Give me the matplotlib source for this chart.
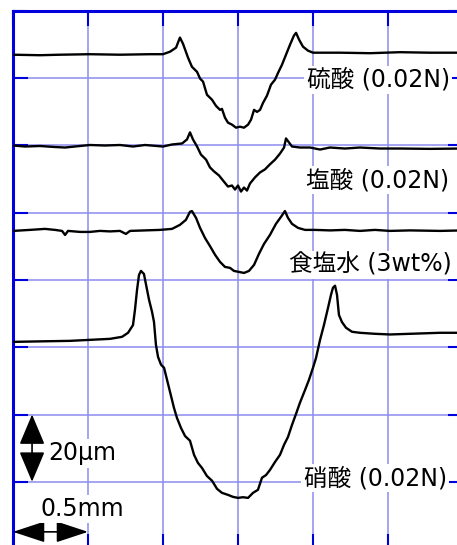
import matplotlib
matplotlib.use("Agg")
import matplotlib.pyplot as plt
import numpy as np

plt.rcParams['font.family'] = ['DejaVu Sans', 'Noto Sans CJK JP']

# surface profiles: x in mm, height in um relative to each trace's surface
x_h2so4 = [0, 0.18, 0.313, 0.513, 0.713, 0.913, 1.0, 1.047, 1.087, 1.113, 1.133, 1.167,
           1.193, 1.227, 1.247, 1.267, 1.293, 1.327, 1.353, 1.38, 1.393, 1.413, 1.433,
           1.46, 1.487, 1.513, 1.54, 1.567, 1.587, 1.607, 1.627, 1.647, 1.667, 1.693,
           1.72, 1.747, 1.767, 1.793, 1.82, 1.847, 1.873, 1.887, 1.907, 1.933, 1.967,
           2.0, 2.18, 2.38, 2.58, 2.78, 3.0]
h_h2so4 = [0, -0.15, 0, 0.15, 0, 0.15, 0.15, 0.9, 2.1, 5.1, 3.3, -0.9,
           -3.6, -5.1, -7.1, -8.0, -11.9, -13.4, -15.2, -16.4, -16.1, -18.7, -20.2,
           -20.8, -21.7, -21.4, -21.7, -20.8, -19.3, -16.4, -17.0, -16.4, -14.3, -12.2,
           -8.9, -7.4, -5.4, -3.0, 0, 3.0, 5.7, 6.5, 4.5, 2.4, 1.2,
           0.6, 0.6, 0.45, 0.75, 0.6, 0.6]

x_hcl = [0, 0.08, 0.18, 0.28, 0.347, 0.413, 0.513, 0.613, 0.713, 0.8, 0.88, 1.0, 1.06,
         1.127, 1.16, 1.18, 1.2, 1.227, 1.253, 1.287, 1.313, 1.34, 1.373, 1.4, 1.433,
         1.46, 1.48, 1.5, 1.52, 1.54, 1.56, 1.58, 1.613, 1.647, 1.68, 1.713, 1.747,
         1.78, 1.807, 1.82, 1.84, 1.86, 1.913, 1.98, 2.047, 2.113, 2.213, 2.313, 2.447,
         2.58, 2.78, 3.0]
h_hcl = [0, -0.3, -0.15, -0.45, -0.6, -0.3, 0.15, 0, 0.15, -0.3, 0.15, -0.3, 0.3,
         0.6, 1.8, 3.9, 1.8, -0.3, -2.7, -4.2, -6.5, -7.7, -8.9, -10.4, -12.2,
         -11.9, -13.1, -11.9, -13.7, -12.5, -13.4, -11.3, -9.5, -8.0, -7.1, -5.6, -4.2,
         -2.4, -0.6, 2.1, 0.9, -0.3, -0.6, -0.6, -1.2, -0.6, -0.9, -0.6, -0.9,
         -0.9, -1.0, -0.9]

x_nacl = [0, 0.113, 0.213, 0.28, 0.327, 0.347, 0.367, 0.447, 0.513, 0.58, 0.647, 0.713,
          0.753, 0.78, 0.88, 0.98, 1.06, 1.113, 1.153, 1.18, 1.193, 1.22, 1.247, 1.28,
          1.313, 1.347, 1.38, 1.413, 1.447, 1.473, 1.507, 1.54, 1.573, 1.607, 1.64,
          1.673, 1.713, 1.753, 1.787, 1.813, 1.833, 1.86, 1.9, 1.947, 2.013, 2.113,
          2.213, 2.313, 2.413, 2.513, 2.647, 2.847, 3.0]
h_nacl = [0, 0.3, 0.6, 0.3, 0, -1.2, 0, -0.3, -0.3, 0, -0.15, 0,
          -0.9, 0, 0.15, 0.3, 0.6, 1.8, 3.3, 5.7, 5.9, 3.9, 0.9, -2.1,
          -4.5, -7.1, -9.2, -10.7, -11.0, -11.9, -12.2, -12.5, -11.9, -10.1, -6.8,
          -3.9, -1.2, 2.1, 4.2, 5.9, 3.9, 2.1, 0.9, 0.3, 0.3, 0.15,
          0.3, 0, 0.3, 0, 0.15, 0, 0.15]

x_hno3 = [0, 0.18, 0.38, 0.513, 0.647, 0.727, 0.767, 0.8, 0.813, 0.827, 0.84, 0.853,
          0.873, 0.887, 0.907, 0.927, 0.94, 0.953, 0.967, 0.987, 1.007, 1.027, 1.047,
          1.073, 1.093, 1.12, 1.147, 1.18, 1.207, 1.233, 1.26, 1.293, 1.327, 1.36,
          1.393, 1.433, 1.467, 1.5, 1.533, 1.567, 1.6, 1.633, 1.66, 1.687, 1.713,
          1.747, 1.78, 1.807, 1.833, 1.86, 1.887, 1.913, 1.947, 1.973, 2.0, 2.02,
          2.047, 2.073, 2.1, 2.12, 2.133, 2.147, 2.16, 2.173, 2.193, 2.22, 2.26,
          2.313, 2.413, 2.513, 2.647, 2.847, 3.0]
h_hno3 = [0, 0.15, 0.3, 0.6, 0.9, 1.5, 2.7, 5.0, 9.5, 15.5, 19.9, 21.1,
          20.2, 17.0, 12.5, 8.9, 5.9, -0.9, -4.5, -6.8, -7.7, -11.3, -14.9,
          -19.6, -22.6, -25.6, -28.0, -29.4, -33.6, -36.0, -37.5, -39.9, -41.3, -43.7,
          -44.9, -45.5, -46.1, -46.4, -46.2, -46.4, -44.9, -44.0, -40.4, -39.6, -38.1,
          -35.7, -33.6, -30.6, -28.3, -24.7, -21.4, -18.1, -14.3, -11.3, -7.7, -4.8,
          0.6, 5.0, 10.1, 14.0, 16.1, 16.7, 14.0, 8.0, 5.9, 4.2, 3.0,
          2.7, 2.4, 2.2, 2.4, 2.7, 2.7]

profiles = [(x_h2so4, h_h2so4), (x_hcl, h_hcl), (x_nacl, h_nacl), (x_hno3, h_hno3)]
offsets = [147, 120, 94.6, 61.6]   # um, vertical stacking of the traces
labels = ['硫酸 (0.02N)', '塩酸 (0.02N)', '食塩水 (3wt%)', '硝酸 (0.02N)']
label_x = [2.913, 2.907, 2.927, 2.893]
label_y = [139.5, 109.7, 84.5, 21.1]

fig = plt.figure(figsize=(4.57, 5.45), dpi=100)
ax = fig.add_axes([13 / 457, -4 / 545, 450 / 457, 538 / 545])

grid_c = '#8c8cf0'
edge_c = '#0000dd'

for (xs, hs), off in zip(profiles, offsets):
    ax.plot(xs, np.array(hs) + off, color='black', lw=1.7, zorder=3)

for t, lx, ly in zip(labels, label_x, label_y):
    ax.text(lx, ly, t, fontsize=17, ha='right', va='center', zorder=4,
            bbox=dict(boxstyle='square,pad=0.1', fc='white', ec='none'))

# scale bars
ax.annotate('', xy=(0.127, 40), xytext=(0.127, 20),
            arrowprops=dict(arrowstyle='<|-|>,head_length=0.95,head_width=0.4',
                            color='black', lw=1.2, shrinkA=0, shrinkB=0,
                            mutation_scale=20), zorder=4)
ax.text(0.233, 28.5, '20µm', fontsize=17, ha='left', va='center', zorder=4,
        bbox=dict(boxstyle='square,pad=0.1', fc='white', ec='none'))
ax.annotate('', xy=(0, 5.1), xytext=(0.5, 5.1),
            arrowprops=dict(arrowstyle='<|-|>,head_length=1.0,head_width=0.33',
                            color='black', lw=1.2, shrinkA=0, shrinkB=0,
                            mutation_scale=20), zorder=4)
ax.text(0.18, 11.9, '0.5mm', fontsize=17, ha='left', va='center', zorder=4,
        bbox=dict(boxstyle='square,pad=0.1', fc='white', ec='none'))

ax.set_xlim(0, 3)
ax.set_ylim(0, 160)
ax.set_xticks(np.arange(0, 3.01, 0.5))
ax.set_yticks(np.arange(0, 161, 20))
ax.grid(True, color=grid_c, lw=1.1, zorder=1)
ax.set_axisbelow(True)
ax.tick_params(direction='in', length=11, width=1.5, color=edge_c,
               top=True, right=True, labelleft=False, labelbottom=False)
for s in ax.spines.values():
    s.set_color(edge_c)
    s.set_linewidth(2.2)

fig.savefig('out.png', dpi=100)
